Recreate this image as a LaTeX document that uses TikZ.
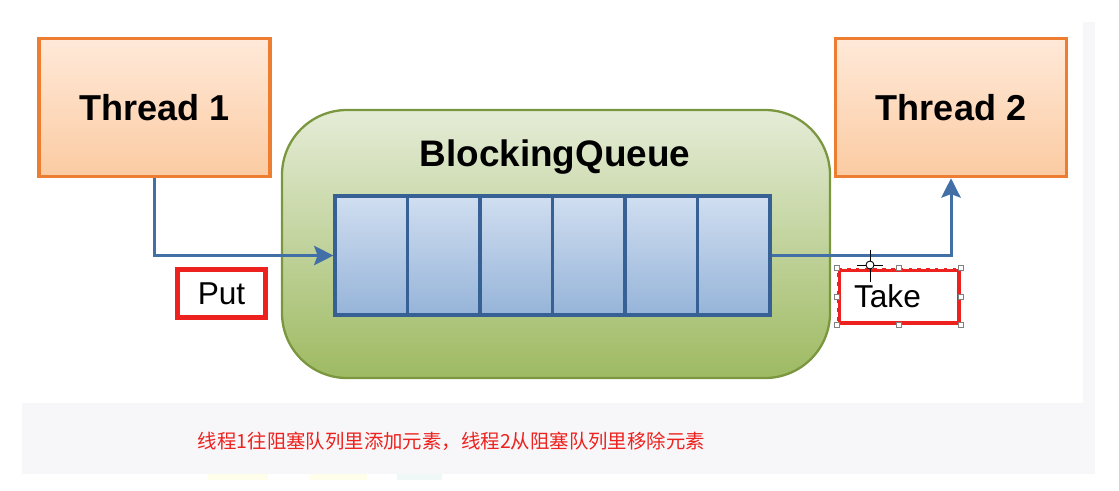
\documentclass[tikz,border=0pt]{standalone}
\usepackage{fontspec}
\setmainfont{Liberation Sans}
\newfontfamily\cjk{Noto Sans CJK SC}
\definecolor{HiloBorde}{RGB}{237,125,49}
\definecolor{HiloArriba}{RGB}{255,233,216}
\definecolor{HiloAbajo}{RGB}{251,203,162}
\definecolor{ColaBorde}{RGB}{122,150,62}
\definecolor{ColaArriba}{RGB}{229,236,215}
\definecolor{ColaAbajo}{RGB}{158,186,98}
\definecolor{CeldaBorde}{RGB}{55,96,148}
\definecolor{CeldaArriba}{RGB}{208,222,240}
\definecolor{CeldaAbajo}{RGB}{150,180,217}
\definecolor{Flecha}{RGB}{66,111,166}
\definecolor{Rojo}{RGB}{237,34,30}
\definecolor{Fondo}{RGB}{247,247,250}
\usepackage{tikz}
\usetikzlibrary{arrows.meta, positioning, calc}

\begin{document}
\begin{tikzpicture}[
	hilo/.style={rectangle, draw=HiloBorde, line width=2pt, top color=HiloArriba,
		bottom color=HiloAbajo, minimum width=4.62cm, minimum height=2.76cm,
		font=\bfseries\fontsize{20.5}{24}\selectfont},
	celda/.style={rectangle, draw=CeldaBorde, line width=1.8pt, top color=CeldaArriba,
		bottom color=CeldaAbajo, minimum width=1.45cm, minimum height=2.38cm},
	etiq/.style={rectangle, fill=white, font=\fontsize{18}{20}\selectfont},
	flecha/.style={draw=Flecha, line width=1.7pt,
		-{Stealth[length=11pt, width=11pt, inset=2pt]}},
	asa/.style={rectangle, draw=gray, fill=white, line width=0.4pt,
		minimum size=0.1cm, inner sep=0pt}]
	\useasboundingbox (0,0) rectangle (22.38,-9.8);
	% fondo de la captura
	\fill[Fondo] (0.44,-8.06) rectangle (21.9,-9.48);
	\fill[Fondo] (21.66,-0.44) rectangle (21.9,-8.06);
	\fill[yellow!8] (4.16,-9.48) rectangle (5.36,-9.6);
	\fill[yellow!8] (6.2,-9.48) rectangle (7.34,-9.6);
	\fill[teal!6] (7.94,-9.48) rectangle (8.84,-9.6);
	% la cola bloqueante
	\node[rectangle, rounded corners=1.3cm, draw=ColaBorde, line width=1.3pt,
		top color=ColaArriba, bottom color=ColaAbajo, minimum width=10.96cm,
		minimum height=5.36cm] (cola) at (11.12,-4.88) {};
	\node[font=\bfseries\fontsize{21}{24}\selectfont] (titulo) at (11.1,-3.14) {BlockingQueue};
	\foreach \i in {0,...,5}
		{\node[celda] (c\i) at (7.425+1.45*\i,-5.11) {};}
	% los dos hilos
	\node[hilo] (t1) at (3.09,-2.15) {Thread 1};
	\node[hilo] (t2) at (19.02,-2.15) {Thread 2};
	% poner y sacar
	\draw[flecha] (t1.south) |- (c0.west);
	\draw[flecha] (c5.east) -| (t2.south);
	\node[etiq, draw=Rojo, line width=2.8pt, minimum width=1.76cm,
		minimum height=0.96cm] (put) at (4.43,-5.87) {Put};
	\node[etiq, draw=Rojo, line width=2.2pt, minimum width=2.4cm, minimum height=1.06cm,
		text width=1.8cm, inner xsep=0.3cm, align=left] (take) at (17.98,-5.93) {Take};
	\draw[white, dash pattern=on 3pt off 2pt, line width=0.5pt]
		(take.north west) rectangle (take.south east);
	\foreach \a in {north west, north, north east, east, south east, south, south west, west}
		{\node[asa] at (take.\a) {};}
	% cursor
	\coordinate (cursor) at (17.4,-5.3);
	\draw[black, line width=0.5pt] ($(cursor)+(-0.26,0)$) -- ($(cursor)+(0.26,0)$)
		($(cursor)+(0,-0.34)$) -- ($(cursor)+(0,0.3)$);
	\draw[black, fill=white, line width=0.5pt] (cursor) circle (0.08);
	% nota
	\node[text=Rojo, font=\cjk\fontsize{11.05}{13}\selectfont] (nota) at (9.03,-8.82)
		{线程1往阻塞队列里添加元素，线程2从阻塞队列里移除元素};
\end{tikzpicture}
\end{document}
